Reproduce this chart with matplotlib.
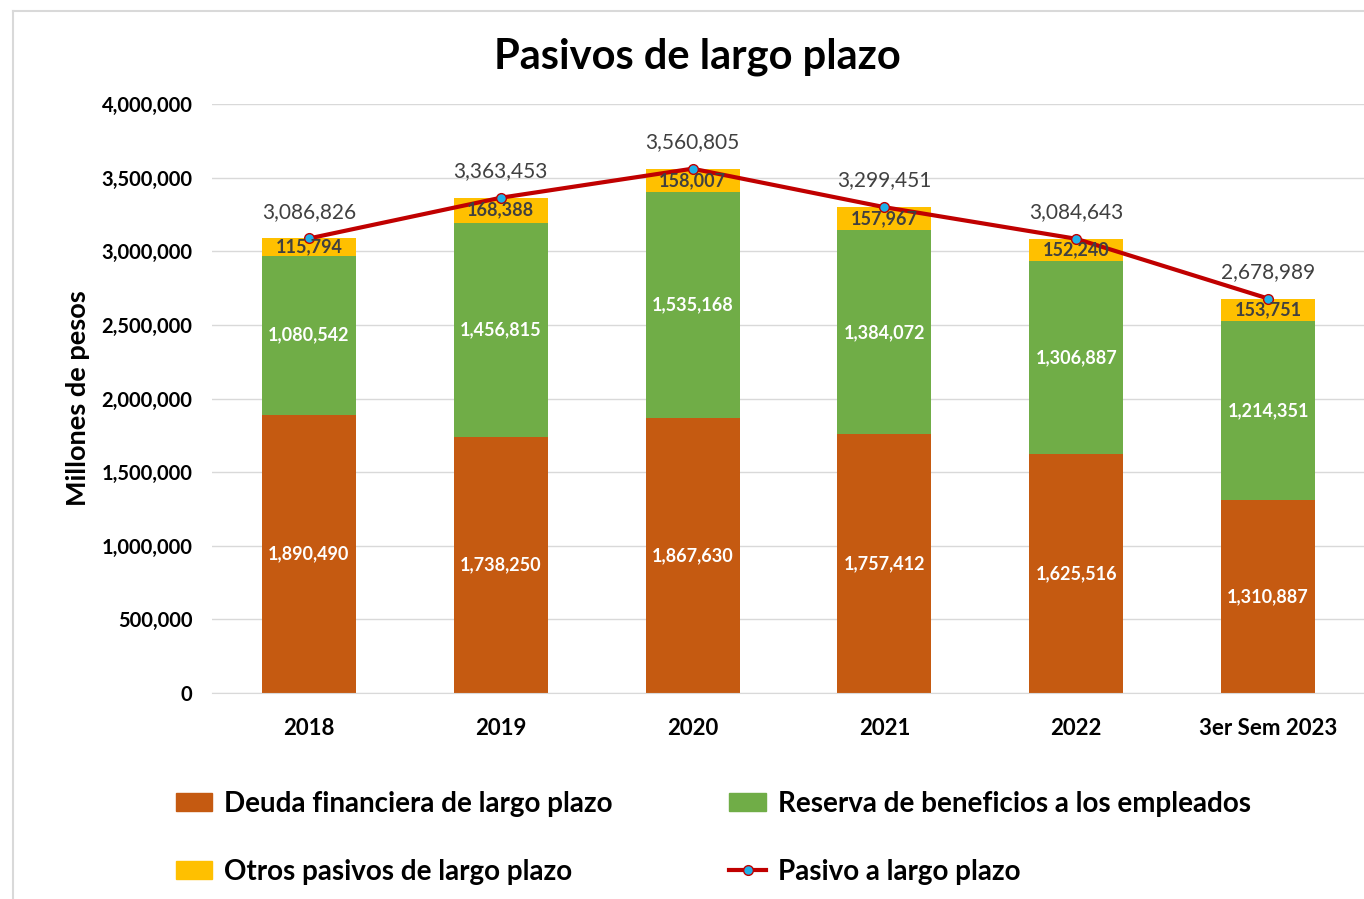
import numpy as np
import matplotlib.pyplot as plt
from matplotlib.lines import Line2D
from matplotlib.patches import Patch
from matplotlib.ticker import FuncFormatter

plt.rcParams['font.family'] = ['Lato', 'DejaVu Sans']

# Data (millones de pesos)
years = ['2018', '2019', '2020', '2021', '2022', '3er Sem 2023']
deuda = [1890490, 1738250, 1867630, 1757412, 1625516, 1310887]
reserva = [1080542, 1456815, 1535168, 1384072, 1306887, 1214351]
otros = [115794, 168388, 158007, 157967, 152240, 153751]
total = [3086826, 3363453, 3560805, 3299451, 3084643, 2678989]

c_deuda = '#C55A11'
c_reserva = '#70AD47'
c_otros = '#FFC000'
c_line = '#C00000'
c_marker = '#1FB0E8'

fig = plt.figure(figsize=(13.64, 8.99), dpi=100)
ax = fig.add_axes([0.1554, 0.2291, 0.8446, 0.6552])

# chart border (only top and left visible in the crop)
bx, by = 13 / 1364, 1 - 11 / 899
fig.add_artist(Line2D([bx, bx], [0, by], transform=fig.transFigure,
                      color='#D9D9D9', linewidth=1.5))
fig.add_artist(Line2D([bx, 1], [by, by], transform=fig.transFigure,
                      color='#D9D9D9', linewidth=1.5))

x = np.arange(len(years))
w = 0.49
deuda = np.array(deuda)
reserva = np.array(reserva)
otros = np.array(otros)

ax.bar(x, deuda, w, color=c_deuda, zorder=2)
ax.bar(x, reserva, w, bottom=deuda, color=c_reserva, zorder=2)
ax.bar(x, otros, w, bottom=deuda + reserva, color=c_otros, zorder=2)
ax.plot(x, total, color=c_line, linewidth=3, marker='o', markersize=7,
        markerfacecolor=c_marker, markeredgecolor=c_line, markeredgewidth=1, zorder=4)

for i in range(len(x)):
    ax.text(x[i], deuda[i] / 2, f'{deuda[i]:,}', ha='center', va='center',
            color='white', fontsize=13, fontweight='bold', zorder=5)
    ax.text(x[i], deuda[i] + reserva[i] / 2, f'{reserva[i]:,}', ha='center', va='center',
            color='white', fontsize=13, fontweight='bold', zorder=5)
    ax.text(x[i], deuda[i] + reserva[i] + otros[i] / 2, f'{otros[i]:,}', ha='center',
            va='center', color='#404040', fontsize=13, fontweight='bold', zorder=5)
    ax.annotate(f'{total[i]:,}', (x[i], total[i]), xytext=(0, 12),
                textcoords='offset points', ha='center', va='bottom',
                color='#404040', fontsize=15, zorder=5)

ax.set_xlim(-0.505, 5.5)
ax.set_ylim(0, 4000000)
ax.set_yticks(np.arange(0, 4000001, 500000))
ax.yaxis.set_major_formatter(FuncFormatter(lambda v, p: f'{int(v):,}'))
ax.set_xticks(x)
ax.set_xticklabels(years, fontsize=16, fontweight='bold')
for lab in ax.get_yticklabels():
    lab.set_fontsize(14.5)
    lab.set_fontweight('bold')
ax.tick_params(axis='both', length=0)
ax.tick_params(axis='x', pad=18)
ax.tick_params(axis='y', pad=14)
ax.grid(axis='y', color='#D9D9D9', linewidth=1, zorder=0)
for s in ['top', 'right', 'left']:
    ax.spines[s].set_visible(False)
ax.spines['bottom'].set_color('#D9D9D9')
ax.set_ylabel('Millones de pesos', fontsize=19.5, fontweight='bold', labelpad=8)

fig.text(0.511, 0.937, 'Pasivos de largo plazo', ha='center', va='center',
         fontsize=30, fontweight='bold')

h_deuda = Patch(color=c_deuda)
h_reserva = Patch(color=c_reserva)
h_otros = Patch(color=c_otros)
h_line = Line2D([0], [0], color=c_line, linewidth=3, marker='o', markersize=7,
                markerfacecolor=c_marker, markeredgecolor=c_line)
# legend fills column by column
handles = [h_deuda, h_otros, h_reserva, h_line]
labels = ['Deuda financiera de largo plazo', 'Otros pasivos de largo plazo',
          'Reserva de beneficios a los empleados', 'Pasivo a largo plazo']
fig.legend(handles, labels, ncol=2, loc='center', bbox_to_anchor=(0.523, 0.068),
           frameon=False, prop={'size': 20, 'weight': 'bold'},
           columnspacing=4.2, handlelength=1.3, handleheight=0.6,
           handletextpad=0.45, labelspacing=1.5)

fig.savefig('out.png', dpi=100)
